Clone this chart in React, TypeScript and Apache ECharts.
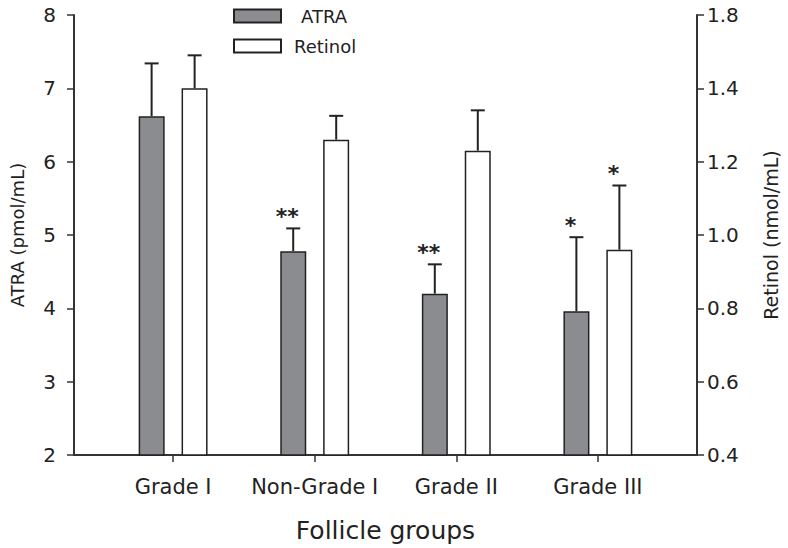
import React, { useEffect, useRef } from "react";
import * as echarts from "echarts";

const categories = ["Grade I", "Non-Grade I", "Grade II", "Grade III"];
const atraMean = [6.62, 4.78, 4.2, 3.96];
const atraSD = [0.72, 0.31, 0.4, 1.01];
const retinolMean = [1.4, 1.26, 1.23, 0.96];
const retinolSD = [0.09, 0.065, 0.11, 0.175];
const atraSig = ["", "**", "**", "*"];
const retinolSig = ["", "", "", "*"];
const leftTicks = { min: 2, max: 8, interval: 1 };
const rightTicks = { min: 0.4, max: 1.6, interval: 0.2 };
const rightTopLabel = "1.8";

const FONT = "DejaVu Sans";
const INK = "#222";
const BAR_OFFSET = 21.5;

function errorSeries(name: string, yAxisIndex: number, means: number[], sds: number[], sig: string[], dx: number) {
  return {
    type: "custom",
    name: name + "-err",
    xAxisIndex: 0,
    yAxisIndex,
    z: 5,
    silent: true,
    data: means.map((m, i) => [i, m, sds[i]]),
    renderItem: (params: any, api: any) => {
      const x = api.value(0);
      const m = api.value(1);
      const sd = api.value(2);
      const p0 = api.coord([x, m]);
      const p1 = api.coord([x, m + sd]);
      const cx = p0[0] + dx;
      const children: any[] = [
        { type: "line", shape: { x1: cx, y1: p0[1], x2: cx, y2: p1[1] }, style: { stroke: INK, lineWidth: 2 } },
        { type: "line", shape: { x1: cx - 7, y1: p1[1], x2: cx + 7, y2: p1[1] }, style: { stroke: INK, lineWidth: 2 } },
      ];
      const s = sig[params.dataIndex];
      if (s) {
        children.push({
          type: "text",
          x: cx - 6,
          y: p1[1] - 12,
          style: { text: s, fill: INK, fontSize: 22, fontWeight: "bold", fontFamily: FONT, align: "center", verticalAlign: "middle" },
        });
      }
      return { type: "group", children };
    },
  };
}

export default function App() {
  const ref = useRef<HTMLDivElement>(null);
  useEffect(() => {
    if (!ref.current) return;
    const chart = echarts.init(ref.current, null, { renderer: "svg" });
    const axisLine = { show: true, onZero: false, lineStyle: { color: "#333", width: 2 } };
    const axisTick = { show: true, inside: false, length: 7, lineStyle: { color: "#333", width: 1.5 } };
    chart.setOption({
      animation: false,
      backgroundColor: "#fff",
      textStyle: { fontFamily: FONT },
      grid: { left: 70, right: 88, top: 15, bottom: 93, containLabel: false },
      legend: {
        orient: "vertical",
        left: 228,
        top: 2,
        itemWidth: 47,
        itemHeight: 13,
        itemGap: 12,
        icon: "rect",
        textStyle: { fontSize: 18, color: INK, fontFamily: FONT, padding: [0, 0, 0, 8] },
        data: [
          { name: "ATRA", textStyle: { padding: [0, 0, 0, 15] } },
          { name: "Retinol" },
        ],
      },
      xAxis: {
        type: "value",
        min: -0.7,
        max: 3.7,
        axisLine,
        axisTick: { ...axisTick, length: 7, customValues: [0, 1, 2, 3] },
        axisLabel: {
          customValues: [0, 1, 2, 3],
          formatter: (v: number) => categories[Math.round(v)] ?? "",
          fontSize: 21,
          color: INK,
          fontFamily: FONT,
          margin: 21,
        },
        splitLine: { show: false },
        name: "Follicle groups",
        nameLocation: "middle",
        nameGap: 63,
        nameTextStyle: { fontSize: 25, color: INK, fontFamily: FONT },
      },
      yAxis: [
        {
          type: "value",
          position: "left",
          ...leftTicks,
          axisLine,
          axisTick,
          splitLine: { show: false },
          axisLabel: { fontSize: 20, color: INK, fontFamily: FONT, margin: 18 },
          name: "ATRA (pmol/mL)",
          nameLocation: "middle",
          nameRotate: 90,
          nameGap: 48,
          nameTextStyle: { fontSize: 18, color: INK, fontFamily: FONT },
        },
        {
          type: "value",
          position: "right",
          ...rightTicks,
          axisLine,
          axisTick,
          splitLine: { show: false },
          axisLabel: {
            fontSize: 20,
            color: INK,
            fontFamily: FONT,
            margin: 10,
            formatter: (v: number) => (Math.abs(v - rightTicks.max) < 1e-6 ? rightTopLabel : v.toFixed(1)),
          },
          name: "Retinol (nmol/mL)",
          nameLocation: "middle",
          nameRotate: 90,
          nameGap: 64,
          nameTextStyle: { fontSize: 19, color: INK, fontFamily: FONT },
        },
      ],
      series: [
        {
          name: "ATRA",
          type: "bar",
          xAxisIndex: 0,
          yAxisIndex: 0,
          barWidth: 26,
          barGap: "65%",
          data: atraMean.map((v, i) => [i, v]),
          itemStyle: { color: "#8b8c8f", borderColor: INK, borderWidth: 1.5 },
        },
        {
          name: "Retinol",
          type: "bar",
          xAxisIndex: 0,
          yAxisIndex: 1,
          barWidth: 26,
          barGap: "65%",
          data: retinolMean.map((v, i) => [i, v]),
          itemStyle: { color: "#ffffff", borderColor: INK, borderWidth: 1.5 },
        },
        errorSeries("ATRA", 0, atraMean, atraSD, atraSig, -BAR_OFFSET),
        errorSeries("Retinol", 1, retinolMean, retinolSD, retinolSig, BAR_OFFSET),
      ],
    });
    return () => chart.dispose();
  }, []);
  return <div ref={ref} style={{ position: "fixed", left: 0, top: 0, width: 788, height: 548 }} />;
}
